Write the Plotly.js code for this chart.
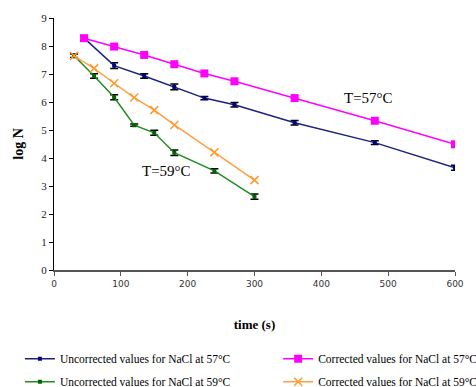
<!DOCTYPE html>
<html>
<head>
<meta charset="utf-8">
<script src="https://cdn.plot.ly/plotly-3.0.1.min.js"></script>
<style>html,body{margin:0;padding:0;background:#fff}#chart{width:476px;height:387px}</style>
</head>
<body>
<div id="chart"></div>
<script>
// Data
const timeU57 = [45, 90, 135, 180, 225, 270, 360, 480, 600];
const logU57  = [8.28, 7.30, 6.93, 6.54, 6.14, 5.90, 5.26, 4.55, 3.65];
const errU57  = [0.08, 0.10, 0.08, 0.10, 0.06, 0.08, 0.08, 0.07, 0.09];

const timeC57 = [45, 90, 135, 180, 225, 270, 360, 480, 600];
const logC57  = [8.28, 7.98, 7.68, 7.35, 7.02, 6.74, 6.14, 5.33, 4.49];

const timeU59 = [30, 60, 90, 120, 150, 180, 240, 300];
const logU59  = [7.65, 6.93, 6.17, 5.17, 4.90, 4.19, 3.54, 2.62];
const errU59  = [0.06, 0.08, 0.09, 0.04, 0.09, 0.10, 0.08, 0.09];

const timeC59 = [30, 60, 90, 120, 150, 180, 240, 300];
const logC59  = [7.65, 7.20, 6.67, 6.16, 5.71, 5.18, 4.20, 3.21];

const names = [
  'Uncorrected values for NaCl at 57°C',
  'Corrected values for NaCl at 57°C',
  'Uncorrected values for NaCl at 59°C',
  'Corrected values for NaCl at 59°C'
];
const labels = ['T=57°C', 'T=59°C'];
const labelPos = [[470, 6.14], [168, 3.55]];

const serif = 'Liberation Serif, Times New Roman, serif';

const traces = [
  {x: timeU57, y: logU57, name: names[0], mode: 'lines+markers', legend: 'legend', legendgroup: 'a',
   line: {color: '#1a237e', width: 1.5},
   marker: {symbol: 'square', size: 4, color: '#000080'},
   error_y: {type: 'data', array: errU57, visible: true, color: '#000', thickness: 1.5, width: 4}},
  {x: timeC57, y: logC57, name: names[1], mode: 'lines+markers', legend: 'legend2', legendgroup: 'b',
   line: {color: '#ff00ff', width: 1.5},
   marker: {symbol: 'square', size: 8, color: '#ff00ff'}},
  {x: timeU59, y: logU59, name: names[2], mode: 'lines+markers', legend: 'legend', legendgroup: 'c',
   line: {color: '#228b22', width: 1.5},
   marker: {symbol: 'square', size: 4, color: '#006400'},
   error_y: {type: 'data', array: errU59, visible: true, color: '#000', thickness: 1.5, width: 4}},
  {x: timeC59, y: logC59, name: names[3], mode: 'lines+markers', legend: 'legend2', legendgroup: 'd',
   line: {color: '#ffa040', width: 1.5},
   marker: {symbol: 'x-thin-open', size: 8, color: '#ff9a30', line: {width: 1.5, color: '#ff9a30'}}}
];

const legendBase = {
  orientation: 'v', yanchor: 'top', y: -0.295, xanchor: 'left',
  tracegroupgap: 4, bgcolor: 'rgba(0,0,0,0)',
  font: {family: serif, size: 11.5, color: '#000'}, itemwidth: 30
};

const layout = {
  width: 476, height: 387,
  margin: {l: 54, r: 21, t: 18, b: 117, autoexpand: false},
  paper_bgcolor: '#fff', plot_bgcolor: '#fff',
  showlegend: true,
  xaxis: {
    range: [0, 600], tickvals: [0, 100, 200, 300, 400, 500, 600],
    showgrid: false, zeroline: false, showline: true, linecolor: '#555', linewidth: 2,
    ticks: 'outside', ticklen: 4, tickcolor: '#555',
    tickfont: {family: 'DejaVu Sans, sans-serif', size: 9, color: '#333'},
    title: {text: '<b>time (s)</b>', font: {family: serif, size: 13, color: '#000'}, standoff: 32}
  },
  yaxis: {
    range: [0, 9], tickvals: [0, 1, 2, 3, 4, 5, 6, 7, 8, 9],
    showgrid: false, zeroline: false, showline: true, linecolor: '#000', linewidth: 1,
    ticks: 'outside', ticklen: 4, tickcolor: '#000',
    tickfont: {family: serif, size: 11, color: '#222'},
    title: {text: '<b>log N</b>', font: {family: serif, size: 14, color: '#000'}, standoff: 14}
  },
  legend: Object.assign({}, legendBase, {x: -0.085}),
  legend2: Object.assign({}, legendBase, {x: 0.559}),
  annotations: labels.map((t, i) => ({
    x: labelPos[i][0], y: labelPos[i][1], xref: 'x', yref: 'y', text: t,
    showarrow: false, font: {family: serif, size: 15, color: '#000'}
  }))
};

Plotly.newPlot('chart', traces, layout, {displayModeBar: false, staticPlot: true});
</script>
</body>
</html>
